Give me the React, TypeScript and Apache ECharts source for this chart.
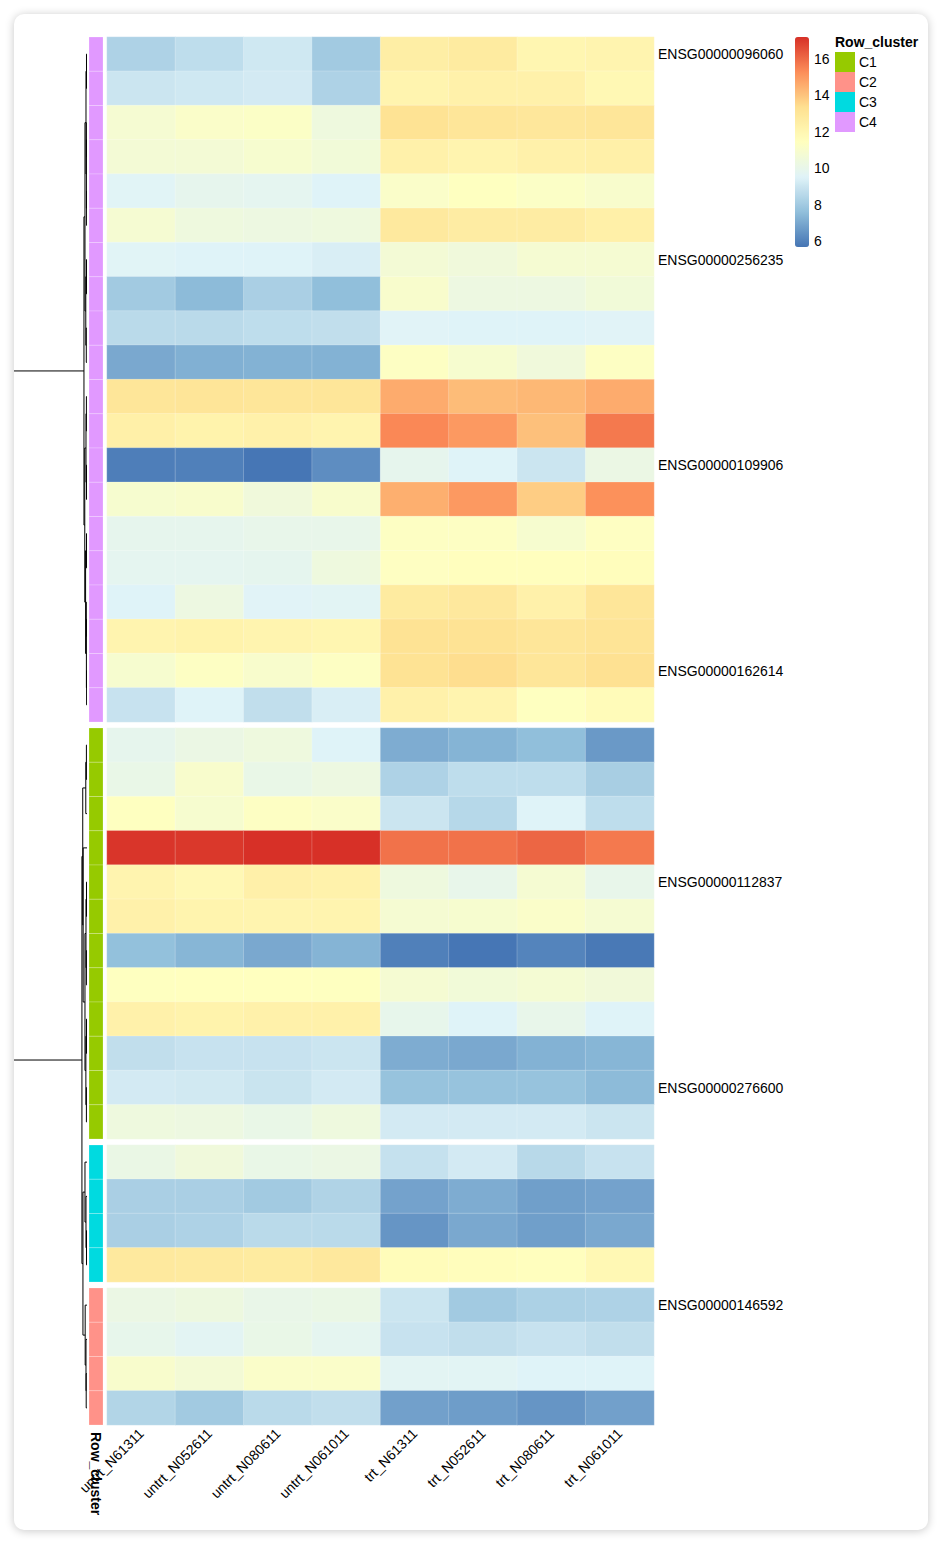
import React, { useEffect, useRef } from "react";
import * as echarts from "echarts";

// ---------- data ----------
const columns = [
  "untrt_N61311", "untrt_N052611", "untrt_N080611", "untrt_N061011",
  "trt_N61311", "trt_N052611", "trt_N080611", "trt_N061011",
];

// display order of the row clusters (top to bottom) and their row counts
const clusterOrder = ["C4", "C1", "C3", "C2"];
const clusterSizes = [20, 12, 4, 4];
const clusterColors: Record<string, string> = {
  C1: "#96CA00",
  C2: "#FF9289",
  C3: "#00DAE0",
  C4: "#E199FF",
};

const c4Values = [
  [8.3, 8.7, 9.1, 8.0, 12.5, 12.7, 12.0, 12.1],
  [9.0, 9.1, 9.2, 8.3, 12.1, 12.3, 12.3, 11.9],
  [10.8, 11.1, 11.2, 10.4, 13.2, 13.0, 12.9, 13.0],
  [10.7, 10.7, 10.9, 10.6, 12.3, 12.1, 12.3, 12.4],
  [9.6, 9.9, 9.8, 9.5, 11.1, 11.4, 11.2, 11.0],
  [10.8, 10.4, 10.3, 10.4, 12.8, 12.6, 12.6, 12.4],
  [9.6, 9.5, 9.5, 9.35, 10.7, 10.5, 10.8, 10.8],
  [8.0, 7.5, 8.2, 7.6, 11.0, 10.3, 10.3, 10.6],
  [8.6, 8.6, 8.7, 8.75, 9.55, 9.5, 9.5, 9.55],
  [7.0, 7.2, 7.25, 7.25, 11.3, 10.9, 10.5, 11.3],
  [13.0, 13.05, 13.0, 13.0, 14.6, 14.2, 14.3, 14.6],
  [12.4, 12.2, 12.3, 12.1, 15.4, 15.0, 14.1, 15.7],
  [5.9, 5.95, 5.7, 6.3, 9.9, 9.5, 9.0, 10.2],
  [10.9, 11.0, 10.5, 11.0, 14.5, 15.0, 13.8, 15.2],
  [9.9, 9.9, 10.0, 10.0, 11.3, 11.3, 10.9, 11.35],
  [9.8, 9.8, 9.85, 10.4, 11.35, 11.5, 11.5, 11.55],
  [9.5, 10.3, 9.55, 9.65, 12.7, 12.85, 12.3, 13.0],
  [12.1, 12.2, 12.1, 12.0, 13.2, 13.2, 13.0, 13.1],
  [10.9, 11.3, 11.0, 11.3, 13.2, 13.4, 13.0, 13.3],
  [8.9, 9.5, 8.75, 9.35, 12.3, 12.1, 11.4, 11.7],
];
const c1Values = [
  [9.9, 10.2, 10.4, 9.5, 7.1, 7.3, 7.6, 6.6],
  [10.1, 11.0, 10.1, 10.3, 8.3, 8.7, 8.7, 8.15],
  [11.4, 10.9, 11.3, 11.1, 9.0, 8.5, 9.5, 8.7],
  [17.1, 17.05, 17.2, 17.2, 15.85, 15.85, 16.1, 15.7],
  [12.1, 11.85, 12.35, 12.25, 10.4, 10.0, 10.8, 10.0],
  [12.3, 12.15, 12.1, 12.1, 10.8, 10.9, 11.1, 10.8],
  [7.65, 7.35, 7.0, 7.3, 5.95, 5.7, 6.05, 5.78],
  [11.4, 11.45, 11.45, 11.4, 10.8, 10.6, 10.75, 10.55],
  [12.3, 12.2, 12.3, 12.3, 9.95, 9.5, 10.0, 9.5],
  [8.75, 8.9, 8.9, 9.0, 7.1, 7.0, 7.25, 7.35],
  [9.2, 9.15, 8.95, 9.2, 7.75, 7.75, 7.75, 7.5],
  [10.4, 10.3, 10.1, 10.4, 9.2, 9.2, 9.2, 9.0],
];
const c3Values = [
  [10.15, 10.5, 10.1, 10.2, 8.85, 9.2, 8.55, 8.9],
  [8.2, 8.2, 8.0, 8.35, 6.85, 7.1, 6.75, 6.85],
  [8.2, 8.3, 8.6, 8.6, 6.5, 7.0, 6.75, 7.0],
  [12.8, 12.75, 12.7, 12.85, 11.65, 11.55, 11.5, 11.9],
];
const c2Values = [
  [10.2, 10.35, 10.05, 10.15, 9.0, 8.0, 8.25, 8.3],
  [9.95, 9.7, 10.1, 9.8, 8.9, 8.75, 8.9, 8.75],
  [11.0, 10.7, 11.1, 11.1, 9.7, 9.65, 9.5, 9.5],
  [8.4, 8.0, 8.6, 8.75, 6.8, 6.7, 6.5, 6.8],
];

// only every sixth row is labelled
const geneLabels = [
  "ENSG00000096060", "ENSG00000256235", "ENSG00000109906", "ENSG00000162614",
  "ENSG00000112837", "ENSG00000276600", "ENSG00000146592",
];
const geneLabelRows = [0, 6, 12, 18, 24, 30, 36];

// colour scale (reversed RdYlBu, 7 classes)
const colorStops = ["#4575B4", "#91BFDB", "#E0F3F8", "#FFFFBF", "#FEE090", "#FC8D59", "#D73027"];
const scaleMin = 5.67;
const scaleMax = 17.21;
const legendTicks = [6, 8, 10, 12, 14, 16];

// row dendrogram: [height, left, right], leaves are global row indices
const rowTree: any = [73,
  [3,
    [2.0, [1.0, [0.5, 0, 1], [0.6, [0.3, 2, 3], [0.4, 4, 5]]], [1.2, [0.5, 6, 7], [0.7, 8, 9]]],
    [2.2, [1.0, [0.6, 10, 11], [0.5, 12, 13]], [1.4, [0.5, 14, 15], [0.6, [0.3, 16, 17], [0.4, 18, 19]]]],
  ],
  [5,
    [4.2, [1.2, [0.6, 20, 21], 22], [3.8, 23, [2.0, [1.0, [0.5, 24, 25], [0.6, 26, 27]], [1.1, [0.5, 28, 29], [0.6, 30, 31]]]]],
    [4.0, [2.0, 32, [1.0, 33, [0.5, 34, 35]]], [1.8, 36, [1.0, 37, [0.8, 38, 39]]]],
  ],
];

const FONT = "'Liberation Sans', Arial, Helvetica, sans-serif";

export default function App() {
  const ref = useRef<HTMLDivElement>(null);

  useEffect(() => {
    if (!ref.current) return;
    const chart = echarts.init(ref.current, null, { renderer: "svg" });

    const clusterValues = [c4Values, c1Values, c3Values, c2Values];
    const heatLeft = 107;
    const heatWidth = 547;
    const top0 = 37;
    const rowH = 34.25;
    const gap = 6;
    const annLeft = 89;
    const annWidth = 14;
    const gapUnits = gap / rowH;
    const totalRows = clusterSizes.reduce((a, b) => a + b, 0);

    const labelMap: Record<string, string> = {};
    geneLabelRows.forEach((r, i) => (labelMap[String(r)] = geneLabels[i]));

    const grids: any[] = [];
    const xAxes: any[] = [];
    const yAxes: any[] = [];
    const series: any[] = [];

    let offset = 0;
    const offsets: number[] = [];
    clusterSizes.forEach((n, k) => {
      offsets.push(offset);
      const top = top0 + offset * rowH + k * gap;
      grids.push({ left: heatLeft, top, width: heatWidth, height: n * rowH });
      offset += n;
    });
    // annotation grids
    clusterSizes.forEach((n, k) => {
      const top = top0 + offsets[k] * rowH + k * gap;
      grids.push({ left: annLeft, top, width: annWidth, height: n * rowH });
    });
    // dendrogram grid
    grids.push({ left: 14, top: top0, width: 73, height: totalRows * rowH + (clusterSizes.length - 1) * gap });
    // colour bar axis grid
    grids.push({ left: 795, top: 37, width: 14, height: 210 });

    // heatmap axes + series
    clusterSizes.forEach((n, k) => {
      const rowNames = Array.from({ length: n }, (_, i) => String(offsets[k] + i));
      const isLast = k === clusterSizes.length - 1;
      xAxes.push({
        type: "category", gridIndex: k, data: columns, position: "bottom",
        show: isLast,
        axisLine: { show: false }, axisTick: { show: false }, splitLine: { show: false },
        axisLabel: { show: isLast, rotate: 45, interval: 0, margin: 6, fontSize: 14, color: "#000", fontFamily: FONT },
      });
      yAxes.push({
        type: "category", gridIndex: k, data: rowNames, inverse: true, position: "right",
        axisLine: { show: false }, axisTick: { show: false }, splitLine: { show: false },
        axisLabel: {
          interval: 0, margin: 4, fontSize: 14, color: "#000", fontFamily: FONT,
          formatter: (v: string) => labelMap[v] || "",
        },
      });
      const data: any[] = [];
      clusterValues[k].forEach((row, r) => row.forEach((v, c) => data.push([c, r, v])));
      series.push({
        type: "heatmap", name: "expr" + k, xAxisIndex: k, yAxisIndex: k, data,
        itemStyle: { borderColor: "rgba(255,255,255,0.35)", borderWidth: 0.6 },
        emphasis: { disabled: true },
      });
    });

    // annotation axes + series
    clusterSizes.forEach((n, k) => {
      const gi = clusterSizes.length + k;
      const rowNames = Array.from({ length: n }, (_, i) => String(offsets[k] + i));
      xAxes.push({ type: "category", gridIndex: gi, data: ["Row_cluster"], show: false });
      yAxes.push({ type: "category", gridIndex: gi, data: rowNames, inverse: true, show: false });
      const name = clusterOrder[k];
      const color = clusterColors[name];
      series.push({
        type: "custom", name, xAxisIndex: gi, yAxisIndex: gi,
        itemStyle: { color },
        data: rowNames.map((_, i) => [0, i]),
        renderItem: (params: any, api: any) => {
          const p = api.coord([0, api.value(1)]);
          const s = api.size([1, 1]);
          return {
            type: "rect",
            shape: { x: p[0] - s[0] / 2, y: p[1] - s[1] / 2, width: s[0], height: s[1] },
            style: { fill: color, stroke: "rgba(255,255,255,0.35)", lineWidth: 0.6 },
          };
        },
      });
    });

    // dendrogram
    const leafPos = (i: number) => {
      let ci = 0;
      let acc = 0;
      while (i >= acc + clusterSizes[ci]) {
        acc += clusterSizes[ci];
        ci++;
      }
      return i + 0.5 + ci * gapUnits;
    };
    const segs: number[][] = [];
    const walk = (node: any): { y: number; h: number } => {
      if (typeof node === "number") return { y: leafPos(node), h: 0 };
      const [h, l, r] = node;
      const L = walk(l);
      const R = walk(r);
      segs.push([h, L.y, h, R.y]);
      segs.push([h, L.y, L.h, L.y]);
      segs.push([h, R.y, R.h, R.y]);
      return { y: (L.y + R.y) / 2, h };
    };
    walk(rowTree);
    const dGrid = clusterSizes.length * 2;
    // the root's vertical link falls just outside the plotting area (clipped), as in the original
    xAxes.push({ type: "value", gridIndex: dGrid, min: 0, max: rowTree[0] * 0.985, inverse: true, show: false });
    yAxes.push({
      type: "value", gridIndex: dGrid, min: 0, max: totalRows + (clusterSizes.length - 1) * gapUnits,
      inverse: true, show: false,
    });
    series.push({
      type: "custom", name: "dendrogram", xAxisIndex: dGrid, yAxisIndex: dGrid, clip: true,
      data: segs, encode: { x: [0, 2], y: [1, 3] },
      renderItem: (params: any, api: any) => {
        const a = api.coord([api.value(0), api.value(1)]);
        const b = api.coord([api.value(2), api.value(3)]);
        return {
          type: "line",
          shape: { x1: a[0], y1: a[1], x2: b[0], y2: b[1] },
          style: { stroke: "#000", lineWidth: 1 },
        };
      },
    });

    // colour bar tick axis
    const cGrid = dGrid + 1;
    xAxes.push({ type: "value", gridIndex: cGrid, show: false, min: 0, max: 1 });
    yAxes.push({
      type: "value", gridIndex: cGrid, min: scaleMin, max: scaleMax, position: "right",
      axisLine: { show: false }, axisTick: { show: false }, splitLine: { show: false },
      axisLabel: { customValues: legendTicks, fontSize: 14, color: "#000", margin: 5, fontFamily: FONT },
    });

    chart.setOption({
      animation: false,
      textStyle: { fontFamily: FONT },
      title: {
        text: "Row_cluster", left: 835, top: 35, padding: 0,
        textStyle: { fontSize: 14, fontWeight: "bold", color: "#000", fontFamily: FONT },
      },
      legend: {
        data: ["C1", "C2", "C3", "C4"], orient: "vertical", left: 835, top: 52, padding: 0,
        itemWidth: 20, itemHeight: 20, itemGap: 0, icon: "rect",
        textStyle: { fontSize: 14, color: "#000", fontFamily: FONT, padding: [0, 0, 0, -1] },
        selectedMode: false,
      },
      visualMap: {
        type: "continuous", min: scaleMin, max: scaleMax, seriesIndex: [0, 1, 2, 3], dimension: 2,
        inRange: { color: colorStops }, orient: "vertical", left: 795, top: 37,
        itemWidth: 14, itemHeight: 210, calculable: false, padding: 0, hoverLink: false,
      },
      grid: grids,
      xAxis: xAxes,
      yAxis: yAxes,
      series,
      graphic: [
        {
          type: "text", x: 96, y: 1432, rotation: -Math.PI / 2,
          style: {
            text: "Row_cluster", fontSize: 14, fontWeight: "bold", fontFamily: FONT,
            fill: "#000", align: "left", verticalAlign: "middle",
          },
        },
      ],
    });

    return () => chart.dispose();
  }, []);

  return (
    <div style={{ position: "absolute", left: 0, top: 0, width: 942, height: 1544, background: "#fff" }}>
      <div
        style={{
          position: "absolute", left: 14, top: 14, width: 914, height: 1516,
          background: "#fff", borderRadius: 10, boxShadow: "0 1px 10px rgba(0,0,0,0.22)",
        }}
      />
      <div ref={ref} style={{ position: "absolute", left: 0, top: 0, width: 942, height: 1544 }} />
    </div>
  );
}
